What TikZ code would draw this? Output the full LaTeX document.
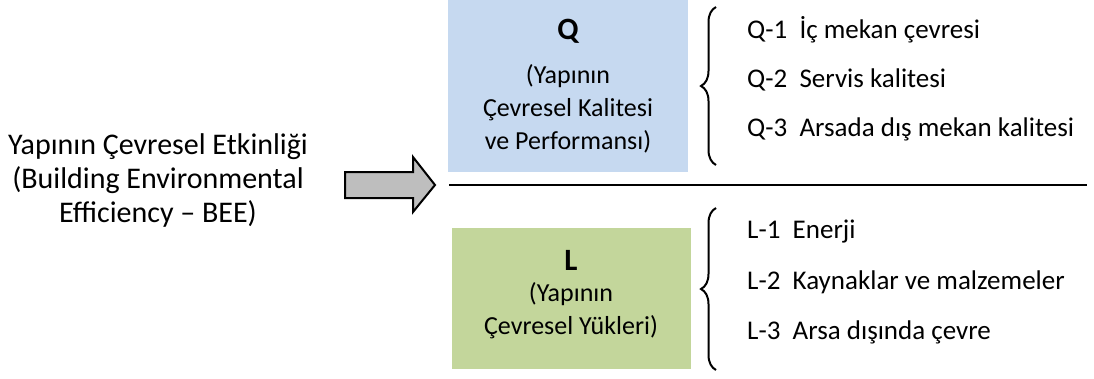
\documentclass[tikz,border=0pt]{standalone}
\usepackage{fontspec}
\setmainfont{Carlito}
\usetikzlibrary{decorations.pathreplacing}
\definecolor{qblue}{HTML}{C6D9F0}
\definecolor{lgreen}{HTML}{C3D69B}
\definecolor{arrowgray}{HTML}{BEBEBE}
\tikzset{
  boxtext/.style={align=center, font=\fontsize{26}{33}\selectfont},
  boxletter/.style={font=\bfseries\fontsize{31}{31}\selectfont},
  item/.style={anchor=west, inner sep=0pt, font=\fontsize{27}{30}\selectfont},
  curly/.style={draw, line width=2pt, decorate, decoration={brace, amplitude=15pt}},
}
\begin{document}
\begin{tikzpicture}[x=1pt, y=-1pt]
\useasboundingbox (0,0) rectangle (1094,378);

% left caption
\node[align=center, font=\fontsize{30}{34}\selectfont] (bee) at (158,180)
  {Yapının Çevresel Etkinliği\\(Building Environmental\\Efficiency – BEE)};

% block arrow
\draw[line width=2pt, fill=arrowgray, line join=miter]
  (345,172) -- (413,172) -- (413,157) -- (435,185) -- (413,212) -- (413,198) -- (345,198) -- cycle;

% category boxes
\fill[qblue] (448,0) rectangle (688,172);
\fill[lgreen] (452,228) rectangle (691,369);
\node[boxletter] (q) at (568,31) {Q};
\node[boxtext] (qtxt) at (568,109) {(Yapının\\Çevresel Kalitesi\\ve Performansı)};
\node[boxletter] (l) at (571,260) {L};
\node[boxtext] (ltxt) at (571,311) {(Yapının\\Çevresel Yükleri)};

% separator
\coordinate (sepL) at (449,185);
\coordinate (sepR) at (1087,185);
\draw[line width=2.5pt] (sepL) -- (sepR);

% braces
\coordinate (qb1) at (716,165);
\coordinate (qb2) at (716,7);
\coordinate (lb1) at (716,370);
\coordinate (lb2) at (716,208);
\draw[curly] (qb1) -- (qb2);
\draw[curly] (lb1) -- (lb2);

% sub-items
\node[item] (q1) at (747,30) {Q-1\ \ İç mekan çevresi};
\node[item] (q2) at (747,80) {Q-2\ \ Servis kalitesi};
\node[item] (q3) at (747,129) {Q-3\ \ Arsada dış mekan kalitesi};
\node[item] (l1) at (747,232) {L-1\ \ Enerji};
\node[item] (l2) at (747,282) {L-2\ \ Kaynaklar ve malzemeler};
\node[item] (l3) at (747,332) {L-3\ \ Arsa dışında çevre};
\end{tikzpicture}
\end{document}
